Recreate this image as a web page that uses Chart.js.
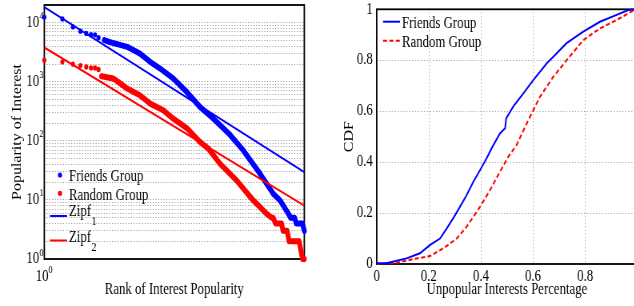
<!DOCTYPE html>
<html>
<head>
<meta charset="utf-8">
<script src="https://cdn.jsdelivr.net/npm/chart.js@4.4.1/dist/chart.umd.min.js"></script>
<style>
  html, body { margin: 0; padding: 0; background: #fff; overflow: hidden; width: 634px; height: 306px; }
  canvas { position: absolute; top: 0; transform: scaleX(0.8); transform-origin: 0 0; }
  #rank { left: 0; }
  #cdf { left: 320px; }
</style>
</head>
<body>
<canvas id="rank" width="400" height="306"></canvas>
<canvas id="cdf" width="400" height="306"></canvas>
<script>
// --- left panel: popularity vs rank (log-log) ---
const friendsRank = [1, 2, 3, 4, 5, 6, 7, 8, 10, 12, 24, 39, 58, 85, 141, 236, 394, 656, 1200, 2070, 3940, 6560, 8480, 11500, 12700, 14800, 15800, 20000, 21500];
const friendsPop  = [12500, 11600, 8500, 7200, 6600, 6300, 6250, 5600, 5100, 4760, 3915, 3020, 2180, 1680, 1140, 674, 375, 238, 132, 69, 27.7, 12.7, 9.8, 6, 5, 5, 4, 4, 3];
const randomRank  = [1, 2, 3, 4, 5, 6, 7, 8, 9, 14, 17, 24, 39, 58, 96, 141, 236, 394, 541, 848, 1610, 3040, 5090, 6170, 6500, 7130, 8980, 9510, 11100, 12000, 17600, 20100, 21500];
const randomPop   = [2330, 2180, 1990, 1890, 1790, 1720, 1720, 1620, 1245, 1140, 996, 769, 593, 428, 330, 238, 165, 96, 74, 41, 21.3, 9.8, 5.8, 5, 5, 4, 4, 3, 3, 2, 2, 1, 1];
const zipfRank  = [1, 21500];
const zipf1Pop  = [18400, 29.5];
const zipf2Pop  = [3820, 8.0];
const rankMax = 21500;
const popMax = 20000;
const popTickValues = [1, 10, 100, 1000, 10000];
const popTickExps = ['0', '1', '2', '3', '4'];
const rankTickValues = [1];
const rankTickExps = ['0'];

// --- right panel: CDF of unpopular interest share ---
const friendsPct = [0, 0.038, 0.077, 0.115, 0.166, 0.205, 0.243, 0.269, 0.294, 0.32, 0.345, 0.371, 0.397, 0.422, 0.441, 0.473, 0.493, 0.497, 0.524, 0.563, 0.601, 0.653, 0.678, 0.729, 0.793, 0.857, 0.921, 0.966, 1.0];
const friendsCdf = [0.003, 0.003, 0.013, 0.022, 0.042, 0.075, 0.10, 0.14, 0.18, 0.225, 0.27, 0.323, 0.369, 0.415, 0.454, 0.513, 0.533, 0.572, 0.618, 0.670, 0.722, 0.788, 0.814, 0.867, 0.912, 0.951, 0.978, 0.997, 1.0];
const randomPct  = [0, 0.077, 0.154, 0.205, 0.256, 0.307, 0.345, 0.397, 0.435, 0.473, 0.505, 0.537, 0.576, 0.627, 0.678, 0.729, 0.793, 0.857, 0.921, 0.985, 1.0];
const randomCdf  = [0, 0.005, 0.022, 0.031, 0.062, 0.10, 0.146, 0.225, 0.29, 0.362, 0.421, 0.467, 0.552, 0.657, 0.735, 0.80, 0.879, 0.925, 0.958, 0.995, 1.0];
const cdfXTicks = [0, 0.2, 0.4, 0.6, 0.8];
const cdfXLabels = ['0', '0.2', '0.4', '0.6', '0.8'];
const cdfYTicks = [0, 0.2, 0.4, 0.6, 0.8, 1];
const cdfYLabels = ['0', '0.2', '0.4', '0.6', '0.8', '1'];

const blue = '#0000ff';
const red = '#ff0000';
const gridGray = '#9a9a9a';
const serif = '"Liberation Serif", "Times New Roman", Times, serif';

Chart.defaults.font.family = serif;
Chart.defaults.font.size = 16;
Chart.defaults.color = '#000';
Chart.defaults.animation = false;

const pts = (xs, ys) => xs.map((x, i) => ({ x: x, y: ys[i] }));

// force the axis box size so the plot area lands where the figure has it
const fixSize = (prop, size) => (s) => {
    s[prop] = size;
    s.paddingTop = s.paddingBottom = s.paddingLeft = s.paddingRight = 0;
};

// black box round the plot area (drawn under the data, like matlab)
const frame = {
    id: 'frame',
    beforeDatasetsDraw(chart) {
        const { ctx, chartArea: a } = chart;
        ctx.save();
        ctx.strokeStyle = '#000';
        ctx.lineWidth = 1.8;
        ctx.strokeRect(a.left, a.top, a.right - a.left, a.bottom - a.top);
        ctx.restore();
    },
};

// exponents of the "10^k" tick labels, set after the "10" chart.js draws
const exponents = {
    id: 'exponents',
    afterDraw(chart, args, opts) {
        const ctx = chart.ctx;
        ctx.save();
        ctx.fillStyle = '#000';
        ctx.font = '10.5px ' + serif;
        ctx.textAlign = 'left';
        ctx.textBaseline = 'alphabetic';
        const ys = chart.scales.y;
        opts.y.values.forEach((v, i) => {
            ctx.fillText(opts.y.exps[i], opts.y.x, ys.getPixelForValue(v) - 3.5);
        });
        const xs = chart.scales.x;
        opts.x.values.forEach((v, i) => {
            ctx.fillText(opts.x.exps[i], xs.getPixelForValue(v) + opts.x.dx, opts.x.y);
        });
        ctx.restore();
    },
};

// legend drawn inside the axes
const keyBox = {
    id: 'keyBox',
    afterDraw(chart, args, opts) {
        const ctx = chart.ctx;
        ctx.save();
        for (const it of opts.items) {
            const ds = chart.data.datasets[it.ds];
            if (it.mark === 'dot') {
                ctx.fillStyle = ds.backgroundColor;
                ctx.beginPath();
                ctx.arc(it.mx, it.y, ds.pointRadius, 0, Math.PI * 2);
                ctx.fill();
            } else {
                ctx.strokeStyle = ds.borderColor;
                ctx.lineWidth = ds.borderWidth;
                ctx.setLineDash(ds.borderDash || []);
                ctx.beginPath();
                ctx.moveTo(it.x0, it.y);
                ctx.lineTo(it.x1, it.y);
                ctx.stroke();
                ctx.setLineDash([]);
            }
            const [base, sub] = ds.label.split('_');
            ctx.fillStyle = '#000';
            ctx.textBaseline = 'alphabetic';
            ctx.font = '16px ' + serif;
            ctx.fillText(base, it.tx, it.ty);
            if (sub) {
                const w = ctx.measureText(base).width;
                ctx.font = '13px ' + serif;
                ctx.fillText(sub, it.tx + w + 0.5, it.ty + 9);
            }
        }
        ctx.restore();
    },
};

// minor grid positions of the log popularity axis
const popGrid = [];
for (let k = 1; k <= popMax; k *= 10) {
    for (let m = 1; m <= 9; m++) {
        if (m * k <= popMax) popGrid.push(m * k);
    }
}

new Chart(document.getElementById('rank'), {
    type: 'scatter',
    data: {
        datasets: [
            {
                label: 'Zipf_1',
                data: pts(zipfRank, zipf1Pop),
                showLine: true,
                borderColor: blue,
                borderWidth: 2,
                pointRadius: 0,
                order: 0,
            },
            {
                label: 'Zipf_2',
                data: pts(zipfRank, zipf2Pop),
                showLine: true,
                borderColor: red,
                borderWidth: 2,
                pointRadius: 0,
                order: 0,
            },
            {
                label: 'Friends Group',
                data: pts(friendsRank, friendsPop),
                backgroundColor: blue,
                borderColor: blue,
                pointRadius: 2.6,
                pointBorderWidth: 0,
                showLine: true,
                borderWidth: 6,
                borderCapStyle: 'round',
                borderJoinStyle: 'round',
                segment: { borderColor: (c) => (c.p0.parsed.x < 9 ? 'rgba(0,0,0,0)' : blue) },
                clip: false,
                order: 1,
            },
            {
                label: 'Random Group',
                data: pts(randomRank, randomPop),
                backgroundColor: red,
                borderColor: red,
                pointRadius: 2.6,
                pointBorderWidth: 0,
                showLine: true,
                borderWidth: 6,
                borderCapStyle: 'round',
                borderJoinStyle: 'round',
                segment: { borderColor: (c) => (c.p0.parsed.x < 9 ? 'rgba(0,0,0,0)' : red) },
                clip: false,
                order: 1,
            },
        ],
    },
    options: {
        responsive: false,
        devicePixelRatio: 1,
        layout: { padding: { top: 5, right: 19.6, left: 0, bottom: 0 } },
        plugins: {
            legend: { display: false },
            tooltip: { enabled: false },
            keyBox: {
                items: [
                    { ds: 2, mark: 'dot', mx: 75, y: 175, tx: 86.3, ty: 181 },
                    { ds: 3, mark: 'dot', mx: 75, y: 193.3, tx: 86.3, ty: 199.5 },
                    { ds: 0, mark: 'line', x0: 62.5, x1: 83.8, y: 216, tx: 86.3, ty: 216 },
                    { ds: 1, mark: 'line', x0: 62.5, x1: 83.8, y: 240.5, tx: 86.3, ty: 242 },
                ],
            },
            exponents: {
                y: { values: popTickValues, exps: popTickExps, x: 49.2 },
                x: { values: rankTickValues, exps: rankTickExps, dx: 5.2, y: 273 },
            },
        },
        scales: {
            x: {
                type: 'logarithmic',
                min: 1,
                max: rankMax,
                afterBuildTicks: (s) => { s.ticks = rankTickValues.map((v) => ({ value: v })); },
                afterFit: fixSize('height', 47),
                ticks: {
                    autoSkip: false,
                    maxRotation: 0,
                    padding: 8,
                    labelOffset: -2.7,
                    callback: (v) => (rankTickValues.includes(v) ? '10' : ''),
                },
                grid: { display: false, drawTicks: false },
                border: { display: false },
                title: {
                    display: true,
                    text: 'Rank of Interest Popularity',
                    padding: { top: 0, bottom: 6.4 },
                },
            },
            y: {
                type: 'logarithmic',
                min: 1,
                max: popMax,
                afterBuildTicks: (s) => { s.ticks = popGrid.map((v) => ({ value: v })); },
                afterFit: fixSize('width', 55.4),
                ticks: {
                    autoSkip: false,
                    padding: 6.5,
                    callback: (v) => (popTickValues.includes(v) ? '10' : ''),
                },
                grid: { color: gridGray, lineWidth: 1, drawTicks: false },
                border: { display: false, dash: [1.2, 2.2] },
                title: {
                    display: true,
                    text: 'Popularity of Interest',
                    padding: { top: 12, bottom: 0 },
                },
            },
        },
    },
    plugins: [frame, keyBox, exponents],
});

const innerGrid = (ends) => (c) => (ends.includes(c.tick.value) ? 'rgba(0,0,0,0)' : gridGray);

new Chart(document.getElementById('cdf'), {
    type: 'scatter',
    data: {
        datasets: [
            {
                label: 'Friends Group',
                data: pts(friendsPct, friendsCdf),
                showLine: true,
                borderColor: blue,
                borderWidth: 2,
                pointRadius: 0,
                clip: false,
            },
            {
                label: 'Random Group',
                data: pts(randomPct, randomCdf),
                showLine: true,
                borderColor: red,
                borderWidth: 2,
                borderDash: [5, 3],
                pointRadius: 0,
                clip: false,
            },
        ],
    },
    options: {
        responsive: false,
        devicePixelRatio: 1,
        layout: { padding: { top: 9.3, right: 3.5, left: 0, bottom: 0 } },
        plugins: {
            legend: { display: false },
            tooltip: { enabled: false },
            keyBox: {
                items: [
                    { ds: 0, mark: 'line', x0: 78.8, x1: 100, y: 21.7, tx: 102.5, ty: 28 },
                    { ds: 1, mark: 'line', x0: 78.8, x1: 100, y: 40.7, tx: 102.5, ty: 46.5 },
                ],
            },
        },
        scales: {
            x: {
                type: 'linear',
                min: 0,
                max: 1,
                afterBuildTicks: (s) => { s.ticks = cdfXTicks.map((v) => ({ value: v })); },
                afterFit: fixSize('height', 42),
                ticks: {
                    autoSkip: false,
                    maxRotation: 0,
                    padding: 3,
                    callback: (v) => cdfXLabels[cdfXTicks.indexOf(v)] ?? '',
                },
                grid: { color: innerGrid([0, 1]), drawTicks: false },
                border: { display: false, dash: [1, 2.5] },
                title: {
                    display: true,
                    text: 'Unpopular Interests Percentage',
                    padding: { top: 0, bottom: 6.4 },
                },
            },
            y: {
                type: 'linear',
                min: 0,
                max: 1,
                afterBuildTicks: (s) => { s.ticks = cdfYTicks.map((v) => ({ value: v })); },
                afterFit: fixSize('width', 70.9),
                ticks: {
                    autoSkip: false,
                    padding: 5,
                    callback: (v) => cdfYLabels[cdfYTicks.indexOf(v)] ?? '',
                },
                grid: { color: innerGrid([0, 1]), drawTicks: false },
                border: { display: false, dash: [1.2, 2.5] },
                title: {
                    display: true,
                    text: 'CDF',
                    padding: { top: 26.7, bottom: 0 },
                },
            },
        },
    },
    plugins: [frame, keyBox],
});
</script>
</body>
</html>
